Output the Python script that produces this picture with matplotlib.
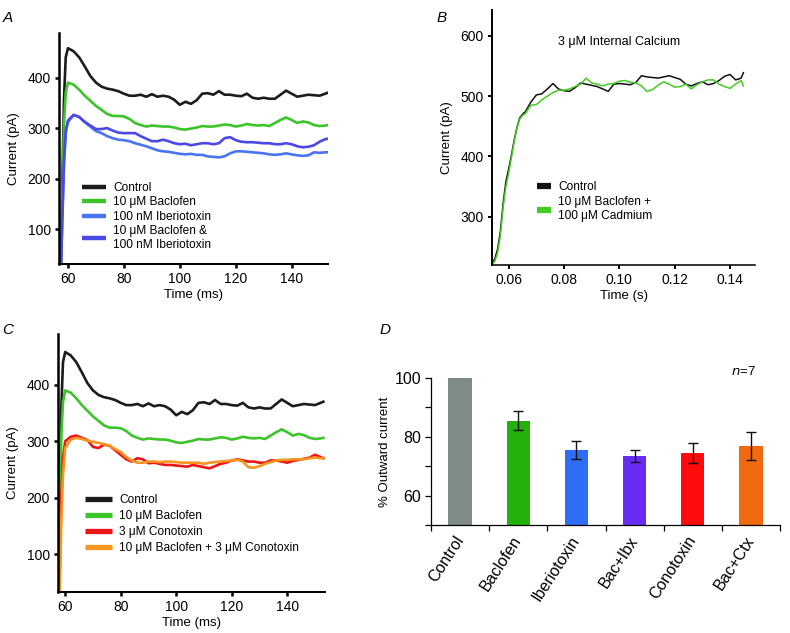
import matplotlib.pyplot as plt
from matplotlib.lines import Line2D
from matplotlib.ticker import FormatStrFormatter, MultipleLocator

plt.rcParams['font.family'] = ['Liberation Sans', 'DejaVu Sans']

# ---- panels A and C: whole-cell currents, time in ms
t_ms = [57.4, 58.0, 58.6, 59.2, 60, 62, 64, 66, 68, 70, 72, 74, 76, 78, 80, 82, 84, 86,
        88, 90, 92, 94, 96, 98, 100, 102, 104, 106, 108, 110, 112, 114, 116, 118, 120,
        122, 124, 126, 128, 130, 132, 134, 136, 138, 140, 142, 144, 146, 148, 150, 152, 153]
control = [30, 200, 360, 440, 458, 452, 440, 422, 403, 390, 382, 378, 376, 373, 368, 364,
           364, 366, 362, 367, 362, 364, 362, 356, 346, 352, 348, 355, 368, 369, 366, 373,
           366, 366, 364, 363, 368, 360, 358, 360, 358, 358, 366, 374, 368, 362, 364, 366,
           365, 364, 368, 370]
baclofen = [20, 170, 310, 370, 390, 386, 376, 364, 354, 344, 336, 328, 324, 324, 323, 318,
            310, 306, 303, 305, 304, 303, 303, 301, 298, 297, 299, 301, 304, 303, 303, 305,
            307, 306, 303, 305, 308, 306, 305, 306, 304, 310, 316, 321, 316, 310, 313, 311,
            306, 304, 305, 306]
iberiotoxin = [0, 120, 230, 290, 312, 326, 322, 312, 303, 294, 290, 284, 280, 277, 276, 274,
               270, 267, 264, 260, 256, 254, 253, 251, 249, 248, 249, 247, 247, 244, 243, 242,
               244, 250, 254, 254, 253, 252, 251, 250, 248, 247, 248, 250, 248, 246, 245, 246,
               252, 251, 252, 252]
bac_ibx = [0, 130, 240, 295, 315, 326, 322, 312, 305, 298, 298, 300, 295, 291, 290, 290,
           290, 284, 279, 274, 274, 277, 274, 270, 268, 269, 266, 268, 270, 270, 268, 270,
           280, 282, 276, 273, 272, 272, 271, 270, 270, 268, 268, 270, 268, 264, 262, 263,
           266, 273, 278, 279]
conotoxin = [0, 60, 200, 270, 300, 308, 310, 306, 302, 290, 288, 294, 292, 284, 276, 268,
             264, 270, 268, 261, 262, 260, 258, 258, 257, 256, 255, 258, 256, 254, 252, 256,
             260, 262, 266, 268, 266, 264, 264, 262, 262, 266, 266, 264, 262, 265, 267, 269,
             271, 276, 272, 270]
bac_ctx = [-20, 30, 160, 240, 288, 303, 306, 304, 301, 299, 297, 295, 292, 286, 281, 272,
           266, 262, 262, 264, 264, 263, 264, 264, 263, 262, 262, 262, 262, 260, 262, 263,
           264, 265, 266, 267, 264, 254, 253, 256, 260, 263, 266, 267, 267, 268, 268, 268,
           270, 271, 270, 270]

# ---- panel B: 3 uM internal calcium, time in s
t_s = [0.054, 0.055, 0.056, 0.057, 0.058, 0.059, 0.060, 0.061, 0.062, 0.063, 0.064, 0.065,
       0.066, 0.067, 0.068, 0.070, 0.072, 0.074, 0.076, 0.078, 0.080, 0.082, 0.084, 0.086,
       0.088, 0.090, 0.092, 0.094, 0.096, 0.098, 0.100, 0.102, 0.104, 0.106, 0.108, 0.110,
       0.112, 0.114, 0.116, 0.118, 0.120, 0.122, 0.124, 0.126, 0.128, 0.130, 0.132, 0.134,
       0.136, 0.138, 0.140, 0.142, 0.144, 0.1448]
ctrl_ca = [224, 230, 246, 275, 322, 358, 379, 402, 427, 448, 464, 470, 474, 482, 490,
           502, 504, 512, 521, 512, 509, 508, 514, 522, 520, 518, 516, 512, 508,
           520, 521, 520, 519, 523, 534, 532, 531, 530, 532, 534, 531, 528, 520, 517,
           521, 524, 519, 521, 526, 533, 536, 527, 530, 539]
bac_cd = [220, 226, 240, 268, 315, 350, 372, 398, 425, 447, 462, 468, 471, 478, 485,
          486, 494, 500, 506, 510, 510, 512, 516, 520, 530, 522, 520, 517, 520,
          521, 525, 526, 523, 522, 517, 508, 511, 518, 524, 520, 515, 516, 520, 512,
          519, 524, 527, 527, 520, 516, 513, 520, 526, 517]

# ---- panel D: summary
groups = ['Control', 'Baclofen', 'Iberiotoxin', 'Bac+Ibx', 'Conotoxin', 'Bac+Ctx']
pct_outward = [100, 85.4, 75.5, 73.3, 74.5, 76.7]
pct_err = [0, 3.3, 3.0, 2.0, 3.5, 4.8]
bar_colors = ['#7f8b88', '#22b20a', '#2f6df6', '#682cf5', '#fe0b0b', '#f26a10']

c_black = '#1c1c1c'
c_green = '#3cc42a'
c_blue = '#4a74f2'
c_purple = '#4b48e6'
c_red = '#ee1515'
c_orange = '#f7951f'

fig = plt.figure(figsize=(7.9, 6.33), dpi=100)


def style_trace_axes(ax, lw):
    ax.spines['top'].set_visible(False)
    ax.spines['right'].set_visible(False)
    ax.spines['left'].set_linewidth(lw)
    ax.spines['bottom'].set_linewidth(lw * 0.8)
    ax.tick_params(direction='out', length=3, width=lw, labelsize=10, pad=3)
    ax.set_ylabel('Current (pA)', fontsize=9.5, labelpad=5)


def trace_legend(ax, labels, colors, anchor, hlen, lw, spacing):
    handles = [Line2D([], [], color=c, lw=lw, solid_capstyle='butt') for c in colors]
    ax.legend(handles, labels, loc='upper left', bbox_to_anchor=anchor, frameon=False,
              fontsize=8.6, handlelength=hlen, handletextpad=0.6, labelspacing=spacing,
              borderpad=0, borderaxespad=0)


# A
axA = fig.add_axes([0.0747, 0.5829, 0.3405, 0.3649])
axA.plot(t_ms, control, color=c_black, lw=1.9)
axA.plot(t_ms, baclofen, color=c_green, lw=1.9)
axA.plot(t_ms, iberiotoxin, color=c_blue, lw=1.9)
axA.plot(t_ms, bac_ibx, color=c_purple, lw=1.9)
axA.set_xlim(56.8, 153)
axA.set_ylim(31, 488)
axA.set_xticks([60, 80, 100, 120, 140])
axA.set_yticks([100, 200, 300, 400])
style_trace_axes(axA, 1.8)
axA.set_xlabel('Time (ms)', fontsize=9.5, labelpad=2)
trace_legend(axA, ['Control', '10 μM Baclofen', '100 nM Iberiotoxin',
                   '10 μM Baclofen &\n100 nM Iberiotoxin'],
             [c_black, c_green, c_blue, c_purple], (0.085, 0.355), 2.0, 3.2, 0.2)

# B
axB = fig.add_axes([0.6228, 0.5814, 0.3329, 0.4028])
axB.plot(t_s, ctrl_ca, color='#111111', lw=1.1)
axB.plot(t_s, bac_cd, color='#44cc22', lw=1.1)
axB.set_xlim(0.054, 0.149)
axB.set_ylim(220, 643)
axB.set_xticks([0.06, 0.08, 0.10, 0.12, 0.14])
axB.set_yticks([300, 400, 500, 600])
axB.xaxis.set_major_formatter(FormatStrFormatter('%.2f'))
style_trace_axes(axB, 1.4)
axB.set_xlabel('Time (s)', fontsize=9.5, labelpad=2)
axB.text(0.25, 0.875, '3 μM Internal Calcium', transform=axB.transAxes, fontsize=9,
         va='center', ha='left')
trace_legend(axB, ['Control', '10 μM Baclofen +\n100 μM Cadmium'],
             ['#111111', '#44cc22'], (0.17, 0.33), 1.2, 4.5, 0.3)

# C
axC = fig.add_axes([0.0734, 0.0648, 0.338, 0.4076])
axC.plot(t_ms, control, color=c_black, lw=1.9)
axC.plot(t_ms, baclofen, color=c_green, lw=1.9)
axC.plot(t_ms, conotoxin, color=c_red, lw=1.9)
axC.plot(t_ms, bac_ctx, color=c_orange, lw=1.9)
axC.set_xlim(57.4, 153.6)
axC.set_ylim(33, 490)
axC.set_xticks([60, 80, 100, 120, 140])
axC.set_yticks([100, 200, 300, 400])
style_trace_axes(axC, 1.8)
axC.set_xlabel('Time (ms)', fontsize=9.5, labelpad=2)
trace_legend(axC, ['Control', '10 μM Baclofen', '3 μM Conotoxin',
                   '10 μM Baclofen + 3 μM Conotoxin'],
             [c_black, c_green, c_red, c_orange], (0.1, 0.38), 2.3, 3.8, 0.35)

# D
axD = fig.add_axes([0.5456, 0.1706, 0.4418, 0.2327])
xpos = list(range(len(groups)))
axD.bar(xpos, pct_outward, width=0.4, color=bar_colors)
axD.errorbar(xpos[1:], pct_outward[1:], yerr=pct_err[1:], fmt='none', ecolor='#111111',
             elinewidth=1, capsize=3.5, capthick=1)
axD.set_xlim(-0.5, 5.5)
axD.set_ylim(50, 100)
axD.set_yticks([60, 80, 100])
axD.yaxis.set_minor_locator(MultipleLocator(10))
axD.set_xticks([-0.5, 0.5, 1.5, 2.5, 3.5, 4.5, 5.5])
axD.set_xticklabels([])
axD.set_xticks(xpos, minor=True)
axD.set_xticklabels(groups, minor=True, rotation=57, ha='right', va='center',
                    rotation_mode='anchor', fontsize=11.5)
axD.tick_params(axis='x', which='minor', length=0, pad=9)
axD.tick_params(axis='both', which='major', direction='out', length=4, width=0.9)
axD.tick_params(axis='y', which='minor', direction='out', length=4, width=0.9)
axD.tick_params(axis='y', labelsize=11.5, pad=3)
for s in ['top', 'right']:
    axD.spines[s].set_visible(False)
axD.spines['left'].set_linewidth(0.9)
axD.spines['bottom'].set_linewidth(0.9)
axD.set_ylabel('% Outward current', fontsize=9.5, labelpad=3)
axD.text(0.894, 1.045, r'$n$=7', transform=axD.transAxes, fontsize=9.5, ha='center',
         va='center')

# panel letters
for letter, x, y in [('A', 0.003, 0.972), ('B', 0.552, 0.972), ('C', 0.003, 0.478),
                     ('D', 0.481, 0.478)]:
    fig.text(x, y, letter, fontsize=11, style='italic', ha='left', va='center')

plt.savefig('out.png', dpi=100)
